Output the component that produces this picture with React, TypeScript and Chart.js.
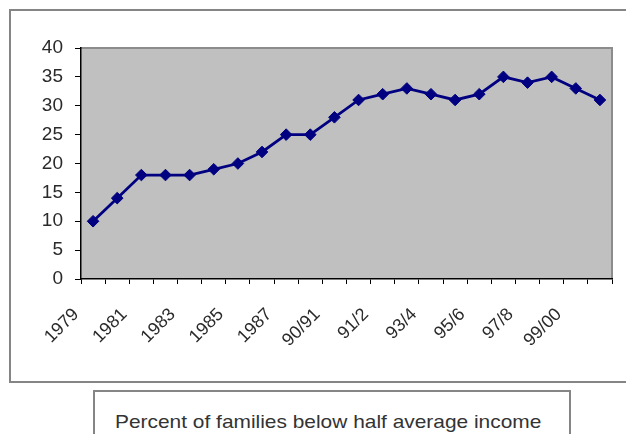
import React, { useEffect, useRef } from "react";
import { Chart, registerables } from "chart.js";

Chart.register(...registerables);

// Survey years (only every other one gets a visible label on the axis)
const categories = [
  "1979", "1980", "1981", "1982", "1983", "1984", "1985", "1986",
  "1987", "1988/89", "90/91", "1991", "91/2", "92/3", "93/4", "94/5",
  "95/6", "96/7", "97/8", "98/9", "99/00", "00/01",
];

// Percent of families below half average income
const percentBelowHalf = [
  10, 14, 18, 18, 18, 19, 20, 22, 25, 25, 28,
  31, 32, 33, 32, 31, 32, 35, 34, 35, 33, 31,
];

const yMin = 0;
const yMax = 40;
const yStep = 5;

const captionText = "Percent of families below half average income";

const FONT = "'Liberation Sans', Arial, sans-serif";
const TEXT_COLOR = "#2a2a2a";
const NAVY = "#000080";

// Grey plot area with a soft frame on the top and right edges
const plotBackground = {
  id: "plotBackground",
  beforeDraw(chart: any) {
    const { ctx, chartArea: a } = chart;
    ctx.save();
    ctx.fillStyle = "#c0c0c0";
    ctx.fillRect(a.left, a.top, a.right - a.left, a.bottom - a.top);
    ctx.strokeStyle = "#8c8c8c";
    ctx.lineWidth = 2;
    ctx.beginPath();
    ctx.moveTo(a.left, a.top);
    ctx.lineTo(a.right, a.top);
    ctx.lineTo(a.right, a.bottom);
    ctx.stroke();
    ctx.restore();
  },
};

export default function App() {
  const canvasRef = useRef<HTMLCanvasElement | null>(null);

  useEffect(() => {
    const canvas = canvasRef.current;
    if (!canvas) return;
    const chart = new Chart(canvas, {
      type: "line",
      data: {
        labels: categories,
        datasets: [
          {
            label: captionText,
            data: percentBelowHalf,
            borderColor: NAVY,
            backgroundColor: NAVY,
            borderWidth: 2.8,
            tension: 0,
            pointStyle: "rectRot",
            pointRadius: 5.8,
            pointBackgroundColor: NAVY,
            pointBorderColor: NAVY,
            pointBorderWidth: 1,
          },
        ],
      },
      options: {
        responsive: false,
        animation: false,
        layout: { padding: { left: 0, top: 48, right: 14, bottom: 0 } },
        plugins: {
          legend: { display: false },
          tooltip: { enabled: false },
        },
        scales: {
          x: {
            type: "category",
            offset: true,
            grid: {
              display: true,
              offset: true,
              drawOnChartArea: false,
              drawTicks: true,
              tickLength: 5,
              color: "#000",
              lineWidth: 1,
            },
            border: { display: true, color: "#000", width: 1.5 },
            ticks: {
              autoSkip: false,
              minRotation: 45,
              maxRotation: 45,
              padding: 20,
              labelOffset: -17,
              color: TEXT_COLOR,
              font: { family: FONT, size: 18 },
              callback: (_v: any, i: number) => (i % 2 === 0 ? categories[i] : ""),
            },
            afterFit: (s: any) => {
              s.height = 155;
              s.paddingLeft = 0;
              s.paddingRight = 0;
            },
          },
          y: {
            min: yMin,
            max: yMax,
            grid: {
              drawOnChartArea: false,
              drawTicks: true,
              tickLength: 6,
              color: "#000",
            },
            border: { display: true, color: "#000", width: 1.5 },
            ticks: {
              stepSize: yStep,
              padding: 12,
              color: TEXT_COLOR,
              font: { family: FONT, size: 19 },
            },
            afterFit: (s: any) => {
              s.width = 81;
            },
          },
        },
      },
      plugins: [plotBackground],
    });
    return () => chart.destroy();
  }, []);

  return (
    <div
      style={{
        position: "absolute",
        left: 0,
        top: 0,
        width: 626,
        height: 434,
        overflow: "hidden",
        background: "#fff",
      }}
    >
      {/* chart frame */}
      <div
        style={{
          position: "absolute",
          left: 9,
          top: 9,
          width: 700,
          height: 374,
          border: "2px solid #858585",
          boxSizing: "border-box",
        }}
      />
      {/* caption box below the chart */}
      <div
        style={{
          position: "absolute",
          left: 93,
          top: 390,
          width: 478,
          height: 80,
          border: "2px solid #858585",
          boxSizing: "border-box",
        }}
      />
      <span
        style={{
          position: "absolute",
          left: 115,
          top: 412,
          fontFamily: FONT,
          fontSize: 19,
          lineHeight: "19px",
          color: "#333",
          whiteSpace: "nowrap",
          transform: "scaleX(1.1)",
          transformOrigin: "left top",
        }}
      >
        {captionText}
      </span>
      <canvas
        ref={canvasRef}
        width={626}
        height={434}
        style={{ position: "absolute", left: 0, top: 0, display: "block" }}
      />
    </div>
  );
}
